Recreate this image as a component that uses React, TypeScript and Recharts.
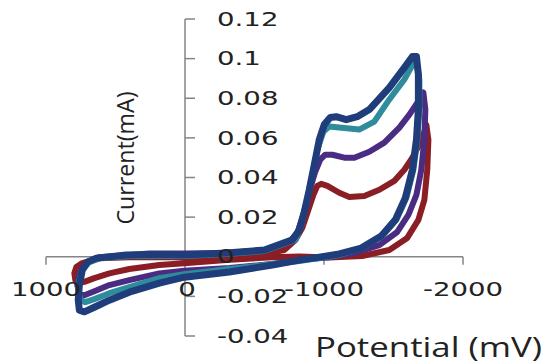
import { LineChart, Line, XAxis, YAxis, ReferenceLine } from "recharts";

// axis ticks
const potentialTicks = [1000, 0, -1000, -2000];
const potentialTickLabels = ["1000", "0", "-1000", "-2000"];
const currentTicks = [-0.04, -0.02, 0, 0.02, 0.04, 0.06, 0.08, 0.1, 0.12];
const currentTickLabels = ["-0.04", "-0.02", "0", "0.02", "0.04", "0.06", "0.08", "0.1", "0.12"];

// scan 1 (dark red): potential (mV), current (mA), in scan order round the loop
const redE = [796, 782, 739, 616, 401, 5, -297, -571, -714, -794, -844, -887, -923, -952, -980, -1024, -1110, -1182, -1290, -1398, -1506, -1578, -1636, -1686, -1722, -1736, -1751, -1743, -1722, -1679, -1599, -1470, -1275, -1038, -822, -628, -297, 5, 185, 401, 544, 652, 724, 768, 789, 796];
const redI = [-0.0083, -0.0052, -0.0032, -0.0008, -0.0002, -0.0002, 0.0004, 0.0014, 0.0034, 0.0085, 0.0146, 0.0236, 0.0312, 0.0358, 0.0368, 0.0358, 0.0323, 0.0302, 0.0307, 0.0338, 0.0383, 0.0439, 0.05, 0.0566, 0.0631, 0.0667, 0.0591, 0.0439, 0.0287, 0.0186, 0.0095, 0.0034, 0.0004, -0.0004, 0.0001, -0.0002, -0.0017, -0.0033, -0.0042, -0.0062, -0.0084, -0.0108, -0.0127, -0.0133, -0.0118, -0.0083];

// scan 2 (purple)
const purpleE = [739, 688, 616, 257, 5, -297, -571, -750, -808, -851, -894, -937, -973, -1009, -1060, -1146, -1218, -1326, -1434, -1542, -1614, -1672, -1715, -1729, -1722, -1700, -1665, -1607, -1527, -1398, -1218, -1038, -822, -628, -319, 5, 185, 401, 544, 652, 724, 760, 775, 760, 739];
const purpleI = [-0.0057, -0.0022, -0.0002, 0.0016, 0.0016, 0.0019, 0.0034, 0.0074, 0.012, 0.0211, 0.0328, 0.0429, 0.049, 0.0515, 0.0515, 0.05, 0.05, 0.053, 0.0576, 0.0652, 0.0717, 0.0778, 0.0829, 0.0743, 0.0591, 0.0439, 0.0312, 0.0211, 0.0125, 0.0059, 0.0019, -0.0002, -0.0017, -0.0037, -0.0057, -0.0071, -0.0084, -0.0118, -0.0143, -0.0174, -0.0194, -0.0184, -0.0143, -0.0093, -0.0057];

// scan 3 (teal)
const tealE = [739, 688, 616, 401, 5, -297, -571, -794, -837, -873, -916, -952, -995, -1038, -1110, -1253, -1362, -1470, -1578, -1643, -1665, -1686, -1686, -1672, -1643, -1592, -1520, -1419, -1275, -1110, -966, -822, -628, -319, 5, 185, 401, 544, 652, 717, 753, 768, 760, 739];
const tealI = [-0.0067, -0.0027, -0.0008, 0.0004, 0.0004, 0.0014, 0.0029, 0.0085, 0.0161, 0.0262, 0.0414, 0.054, 0.0631, 0.0657, 0.0652, 0.0642, 0.0682, 0.0794, 0.0895, 0.0976, 0.0986, 0.0895, 0.0743, 0.0591, 0.0439, 0.0297, 0.0186, 0.0105, 0.0044, 0.0009, -0.0007, -0.0022, -0.0037, -0.0062, -0.0088, -0.0108, -0.0153, -0.0184, -0.0214, -0.0229, -0.0219, -0.0169, -0.0118, -0.0067];

// scan 4 (dark blue)
const blueE = [739, 703, 638, 422, 185, 5, -297, -571, -772, -822, -858, -894, -930, -966, -1002, -1045, -1088, -1160, -1239, -1326, -1470, -1578, -1636, -1665, -1679, -1679, -1665, -1636, -1585, -1513, -1412, -1268, -1110, -966, -822, -628, -319, 5, 185, 401, 544, 652, 724, 760, 768, 760, 739];
const blueI = [-0.0067, -0.0027, -0.0007, 0.0009, 0.0011, 0.0009, 0.0019, 0.0034, 0.0085, 0.0135, 0.0226, 0.0338, 0.0464, 0.0591, 0.0667, 0.0703, 0.0707, 0.0692, 0.0707, 0.0743, 0.0854, 0.0955, 0.1011, 0.1011, 0.092, 0.0743, 0.0591, 0.0439, 0.0297, 0.0186, 0.0105, 0.0044, 0.0014, -0.0002, -0.0017, -0.0042, -0.0077, -0.0103, -0.0133, -0.0179, -0.0219, -0.0255, -0.0278, -0.027, -0.0219, -0.0143, -0.0067];

const toPoints = (e: number[], i: number[]) => e.map((v, k) => ({ e: v, i: i[k] }));

const scans = [
  { name: "scan1", color: "#8b1e24", width: 6, data: toPoints(redE, redI) },
  { name: "scan2", color: "#4a2c82", width: 6, data: toPoints(purpleE, purpleI) },
  { name: "scan3", color: "#2f8c9d", width: 6, data: toPoints(tealE, tealI) },
  { name: "scan4", color: "#1f3d7a", width: 7, data: toPoints(blueE, blueI) },
];

const AXIS = "#858585";
const TEXT = "#222";

function StretchText({ x, y, text, anchor }: { x: number; y: number; text: string; anchor: "start" | "middle" | "end" }) {
  return (
    <text
      transform={`translate(${x} ${y}) scale(1.38 1)`}
      textAnchor={anchor}
      dominantBaseline="central"
      fontFamily="'DejaVu Sans', Verdana, sans-serif"
      fontSize={20}
      fill={TEXT}
    >
      {text}
    </text>
  );
}

export default function App() {
  return (
    <div style={{ position: "absolute", left: 0, top: 0, width: 547, height: 364, background: "#fff" }}>
      <LineChart width={547} height={364} margin={{ top: 19, right: 84, bottom: 28, left: 46 }}>
        <XAxis type="number" dataKey="e" domain={[-2000, 1000]} reversed hide allowDataOverflow />
        <YAxis type="number" dataKey="i" domain={[-0.04, 0.12]} hide allowDataOverflow />
        <ReferenceLine y={0} stroke={AXIS} strokeWidth={1.5} />
        <ReferenceLine x={0} stroke={AXIS} strokeWidth={1.5} />
        {currentTicks.map((v) => (
          <ReferenceLine
            key={"yt" + v}
            segment={[{ x: 0, y: v }, { x: -72, y: v }]}
            stroke={AXIS}
            strokeWidth={1.5}
          />
        ))}
        {potentialTicks.map((v) => (
          <ReferenceLine
            key={"xt" + v}
            segment={[{ x: v, y: 0 }, { x: v, y: -0.004 }]}
            stroke={AXIS}
            strokeWidth={1.5}
          />
        ))}
        {scans.map((s) => (
          <Line
            key={s.name}
            data={s.data}
            dataKey="i"
            type="linear"
            stroke={s.color}
            strokeWidth={s.width}
            strokeLinejoin="round"
            strokeLinecap="round"
            dot={false}
            activeDot={false}
            isAnimationActive={false}
          />
        ))}
        {currentTicks.map((v, k) => (
          <ReferenceLine
            key={"yl" + v}
            segment={[{ x: 0, y: v }, { x: -1, y: v }]}
            stroke="none"
            label={(p: any) => <StretchText x={p.viewBox.x + 32} y={p.viewBox.y} text={currentTickLabels[k]} anchor="start" />}
          />
        ))}
        {potentialTicks.map((v, k) => (
          <ReferenceLine
            key={"xl" + v}
            segment={[{ x: v, y: 0 }, { x: v, y: -0.0001 }]}
            stroke="none"
            label={(p: any) => <StretchText x={p.viewBox.x + (v === 0 ? 2 : 0)} y={p.viewBox.y + 33} text={potentialTickLabels[k]} anchor="middle" />}
          />
        ))}
      </LineChart>
      <svg width={547} height={364} style={{ position: "absolute", left: 0, top: 0, pointerEvents: "none" }}>
        <text
          x={0}
          y={0}
          transform="translate(124 158) rotate(-90)"
          textAnchor="middle"
          dominantBaseline="central"
          fontFamily="'Open Sans', sans-serif"
          fontSize={24}
          textLength={133}
          lengthAdjust="spacingAndGlyphs"
          fill={TEXT}
        >
          Current(mA)
        </text>
        <text
          x={315}
          y={346}
          dominantBaseline="central"
          fontFamily="'Open Sans', sans-serif"
          fontSize={27}
          textLength={227}
          lengthAdjust="spacingAndGlyphs"
          fill={TEXT}
        >
          Potential (mV)
        </text>
      </svg>
    </div>
  );
}
